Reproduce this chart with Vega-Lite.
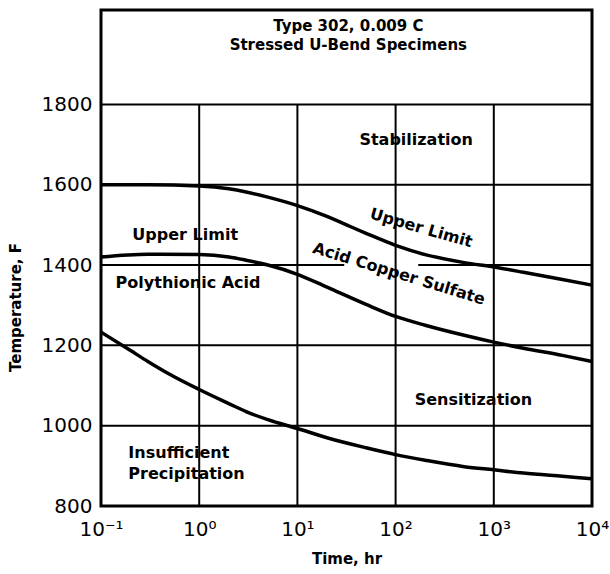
{
  "$schema": "https://vega.github.io/schema/vega-lite/v6.json",
  "autosize": "none",
  "width": 491,
  "height": 496,
  "padding": {"left": 101, "top": 10, "right": 18, "bottom": 68},
  "background": "white",
  "config": {
    "view": {"stroke": "black", "strokeWidth": 3},
    "axis": {"domain": false, "ticks": false, "grid": false, "labelColor": "black", "titleColor": "black", "labelFont": "DejaVu Sans", "titleFont": "DejaVu Sans"}
  },
  "datasets": {
    "curves": [
      {"series": "Upper Limit ACS", "t": 0.1, "T": 1600},
      {"series": "Upper Limit ACS", "t": 0.3, "T": 1600},
      {"series": "Upper Limit ACS", "t": 1, "T": 1597},
      {"series": "Upper Limit ACS", "t": 2, "T": 1590},
      {"series": "Upper Limit ACS", "t": 3, "T": 1582},
      {"series": "Upper Limit ACS", "t": 5, "T": 1569},
      {"series": "Upper Limit ACS", "t": 10, "T": 1548},
      {"series": "Upper Limit ACS", "t": 20, "T": 1521},
      {"series": "Upper Limit ACS", "t": 31.6, "T": 1500},
      {"series": "Upper Limit ACS", "t": 50, "T": 1479},
      {"series": "Upper Limit ACS", "t": 100, "T": 1449},
      {"series": "Upper Limit ACS", "t": 200, "T": 1426},
      {"series": "Upper Limit ACS", "t": 500, "T": 1406},
      {"series": "Upper Limit ACS", "t": 1000, "T": 1395},
      {"series": "Upper Limit ACS", "t": 2000, "T": 1382},
      {"series": "Upper Limit ACS", "t": 5000, "T": 1364},
      {"series": "Upper Limit ACS", "t": 10000, "T": 1350},
      {"series": "Upper Limit PA", "t": 0.1, "T": 1420},
      {"series": "Upper Limit PA", "t": 0.3, "T": 1427},
      {"series": "Upper Limit PA", "t": 1, "T": 1426},
      {"series": "Upper Limit PA", "t": 2, "T": 1420},
      {"series": "Upper Limit PA", "t": 3, "T": 1412},
      {"series": "Upper Limit PA", "t": 5, "T": 1400},
      {"series": "Upper Limit PA", "t": 10, "T": 1377},
      {"series": "Upper Limit PA", "t": 20, "T": 1345},
      {"series": "Upper Limit PA", "t": 50, "T": 1302},
      {"series": "Upper Limit PA", "t": 100, "T": 1272},
      {"series": "Upper Limit PA", "t": 200, "T": 1250},
      {"series": "Upper Limit PA", "t": 500, "T": 1225},
      {"series": "Upper Limit PA", "t": 1000, "T": 1208},
      {"series": "Upper Limit PA", "t": 2000, "T": 1193},
      {"series": "Upper Limit PA", "t": 5000, "T": 1175},
      {"series": "Upper Limit PA", "t": 10000, "T": 1160},
      {"series": "Lower", "t": 0.1, "T": 1233},
      {"series": "Lower", "t": 0.2, "T": 1187},
      {"series": "Lower", "t": 0.3, "T": 1160},
      {"series": "Lower", "t": 0.5, "T": 1128},
      {"series": "Lower", "t": 1, "T": 1090},
      {"series": "Lower", "t": 2, "T": 1055},
      {"series": "Lower", "t": 3, "T": 1035},
      {"series": "Lower", "t": 5, "T": 1015},
      {"series": "Lower", "t": 10, "T": 993},
      {"series": "Lower", "t": 20, "T": 970},
      {"series": "Lower", "t": 50, "T": 945},
      {"series": "Lower", "t": 100, "T": 928},
      {"series": "Lower", "t": 200, "T": 914},
      {"series": "Lower", "t": 500, "T": 898},
      {"series": "Lower", "t": 1000, "T": 890},
      {"series": "Lower", "t": 2000, "T": 882},
      {"series": "Lower", "t": 5000, "T": 874},
      {"series": "Lower", "t": 10000, "T": 868}
    ],
    "vgrid": [
      {"t": 1, "T": 800, "T2": 1800},
      {"t": 10, "T": 800, "T2": 1800},
      {"t": 100, "T": 800, "T2": 1800},
      {"t": 1000, "T": 800, "T2": 1800}
    ],
    "hgrid": [
      {"t": 0.1, "t2": 10000, "T": 1000},
      {"t": 0.1, "t2": 10000, "T": 1200},
      {"t": 0.1, "t2": 30, "T": 1400},
      {"t": 170, "t2": 10000, "T": 1400},
      {"t": 0.1, "t2": 10000, "T": 1600},
      {"t": 0.1, "t2": 10000, "T": 1800}
    ],
    "titles": [
      {"t": 33, "T": 1994, "label": "Type 302, 0.009 C"},
      {"t": 33, "T": 1948, "label": "Stressed U-Bend Specimens"}
    ],
    "labels": [
      {"t": 162, "T": 1712, "label": "Stabilization"},
      {"t": 0.72, "T": 1475, "label": "Upper Limit"},
      {"t": 0.77, "T": 1355, "label": "Polythionic Acid"},
      {"t": 620, "T": 1064, "label": "Sensitization"}
    ],
    "leftlabels": [
      {"t": 0.19, "T": 932, "label": "Insufficient"},
      {"t": 0.19, "T": 880, "label": "Precipitation"}
    ],
    "rot1": [
      {"t": 182, "T": 1492, "label": "Upper Limit"}
    ],
    "rot2": [
      {"t": 108, "T": 1378, "label": "Acid Copper Sulfate"}
    ]
  },
  "encoding": {
    "x": {
      "field": "t", "type": "quantitative",
      "scale": {"type": "log", "domain": [0.1, 10000], "nice": false},
      "axis": {
        "values": [0.1, 1, 10, 100, 1000, 10000],
        "labelExpr": "'10' + ['⁻¹','⁰','¹','²','³','⁴'][round(log(datum.value)/LN10)+1]",
        "labelFontSize": 20, "labelPadding": 13, "labelFlush": false, "labelOverlap": false, "labelBound": false,
        "title": "Time, hr", "titleFontSize": 15, "titleFontWeight": "bold",
        "titleY": 52, "titleBaseline": "middle"
      }
    },
    "y": {
      "field": "T", "type": "quantitative",
      "scale": {"domain": [800, 2035], "nice": false, "zero": false},
      "axis": {
        "values": [800, 1000, 1200, 1400, 1600, 1800],
        "format": "d",
        "labelFontSize": 20, "labelPadding": 9, "labelOverlap": false, "labelBound": false,
        "title": "Temperature, F", "titleFontSize": 15, "titleFontWeight": "bold",
        "titleX": -86, "titleY": 297, "titleAngle": -90, "titleAlign": "center", "titleBaseline": "middle"
      }
    }
  },
  "layer": [
    {
      "data": {"name": "vgrid"},
      "mark": {"type": "rule", "color": "black", "strokeWidth": 2},
      "encoding": {"y2": {"field": "T2"}}
    },
    {
      "data": {"name": "hgrid"},
      "mark": {"type": "rule", "color": "black", "strokeWidth": 2},
      "encoding": {"x2": {"field": "t2"}}
    },
    {
      "data": {"name": "curves"},
      "mark": {"type": "line", "color": "black", "strokeWidth": 3.5, "interpolate": "monotone"},
      "encoding": {"detail": {"field": "series"}}
    },
    {
      "data": {"name": "titles"},
      "mark": {"type": "text", "font": "DejaVu Sans", "fontWeight": "bold", "fontSize": 15, "color": "black", "align": "center", "baseline": "middle"},
      "encoding": {"text": {"field": "label"}}
    },
    {
      "data": {"name": "labels"},
      "mark": {"type": "text", "font": "DejaVu Sans", "fontWeight": "bold", "fontSize": 16, "color": "black", "align": "center", "baseline": "middle"},
      "encoding": {"text": {"field": "label"}}
    },
    {
      "data": {"name": "leftlabels"},
      "mark": {"type": "text", "font": "DejaVu Sans", "fontWeight": "bold", "fontSize": 16, "color": "black", "align": "left", "baseline": "middle"},
      "encoding": {"text": {"field": "label"}}
    },
    {
      "data": {"name": "rot1"},
      "mark": {"type": "text", "font": "DejaVu Sans", "fontWeight": "bold", "fontSize": 16, "color": "black", "align": "center", "baseline": "middle", "angle": 16},
      "encoding": {"text": {"field": "label"}}
    },
    {
      "data": {"name": "rot2"},
      "mark": {"type": "text", "font": "DejaVu Sans", "fontWeight": "bold", "fontSize": 16, "color": "black", "align": "center", "baseline": "middle", "angle": 17},
      "encoding": {"text": {"field": "label"}}
    }
  ]
}
